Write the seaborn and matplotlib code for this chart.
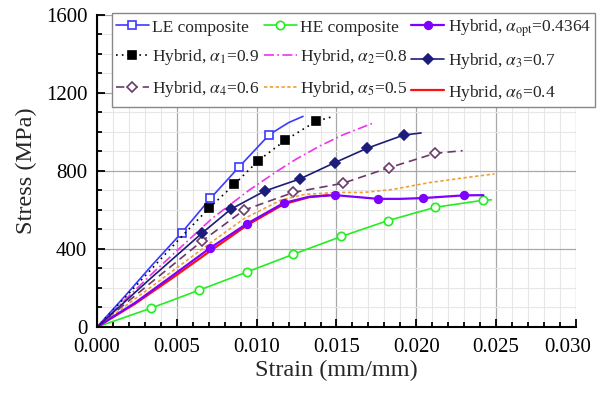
import numpy as np
import matplotlib
matplotlib.use('Agg')
import matplotlib.pyplot as plt
import matplotlib.transforms as mtransforms
import seaborn as sns
from matplotlib.ticker import MultipleLocator, FormatStrFormatter

# strain (mm/mm) / stress (MPa)
le_strain = [0, 0.0018, 0.0035, 0.0053, 0.0071, 0.0089, 0.0108, 0.0120, 0.0129]
le_stress = [0, 163, 322, 483, 659, 821, 987, 1048, 1080]

he_strain = [0, 0.0034, 0.0064, 0.0094, 0.0123, 0.0153, 0.0182, 0.0212, 0.0242, 0.0247]
he_stress = [0, 97, 189, 282, 373, 464, 545, 614, 650, 652]

opt_strain = [0, 0.0024, 0.0047, 0.0071, 0.0094, 0.0117, 0.0133, 0.0149, 0.0162, 0.0176, 0.0190, 0.0204, 0.0230, 0.0242]
opt_stress = [0, 125, 262, 406, 530, 636, 668, 676, 667, 657, 657, 661, 675, 676]

a1_strain = [0, 0.0018, 0.0035, 0.0052, 0.0070, 0.0086, 0.0101, 0.0118, 0.0137, 0.0148]
a1_stress = [0, 155, 305, 455, 608, 731, 853, 958, 1054, 1080]

a2_strain = [0, 0.0036, 0.0072, 0.0095, 0.0113, 0.0125, 0.0140, 0.0154, 0.0173]
a2_stress = [0, 285, 556, 700, 800, 862, 930, 985, 1046]

a3_strain = [0, 0.0033, 0.0066, 0.0084, 0.0105, 0.0127, 0.0149, 0.0169, 0.0192, 0.0203]
a3_stress = [0, 245, 483, 605, 697, 759, 843, 916, 984, 995]

a4_strain = [0, 0.0033, 0.0066, 0.0092, 0.0123, 0.0154, 0.0183, 0.0212, 0.0229]
a4_stress = [0, 222, 442, 599, 690, 737, 817, 891, 904]

a5_strain = [0, 0.0035, 0.0070, 0.0092, 0.0115, 0.0130, 0.0150, 0.0167, 0.0185, 0.0208, 0.0230, 0.0249]
a5_stress = [0, 212, 425, 555, 650, 680, 690, 690, 705, 740, 765, 785]

a6_strain = [0, 0.0024, 0.0047, 0.0071, 0.0094, 0.0117, 0.0133, 0.0145]
a6_stress = [0, 120, 250, 390, 522, 630, 666, 676]

sns.set_style('ticks')
plt.rcParams['font.family'] = ['Liberation Serif', 'DejaVu Serif']
plt.rcParams['mathtext.fontset'] = 'stix'

fig = plt.figure(figsize=(5.97, 3.93), dpi=100)
ax = fig.add_axes([0.1625, 0.168, 0.8023, 0.7939])

# (x, y, color, linestyle, marker, filled, markevery, label)
series = [
    (le_strain, le_stress, '#3a3aff', '-', 's', False, [3, 4, 5, 6], 'LE composite'),
    (a1_strain, a1_stress, 'black', (0, (1, 2.5)), 's', True, [4, 5, 6, 7, 8], r'Hybrid, $\alpha_1$=0.9'),
    (a4_strain, a4_stress, '#6a3a6a', (0, (5, 3)), 'D', False, [2, 3, 4, 5, 6, 7], r'Hybrid, $\alpha_4$=0.6'),
    (he_strain, he_stress, '#22ee22', '-', 'o', False, [1, 2, 3, 4, 5, 6, 7, 8], 'HE composite'),
    (a2_strain, a2_stress, '#ee33ee', (0, (6, 2, 1, 2)), None, False, None, r'Hybrid, $\alpha_2$=0.8'),
    (a5_strain, a5_stress, '#f0a030', (0, (2, 1.5)), None, False, None, r'Hybrid, $\alpha_5$=0.5'),
    (a6_strain, a6_stress, '#ff1010', '-', None, False, None, r'Hybrid, $\alpha_6$=0.4'),
    (opt_strain, opt_stress, '#7f00ff', '-', 'o', True, [3, 4, 5, 7, 9, 11, 12], r'Hybrid, $\alpha_{\rm opt}$=0.4364'),
    (a3_strain, a3_stress, '#1c1c7a', '-', 'D', True, [2, 3, 4, 5, 6, 7, 8], r'Hybrid, $\alpha_3$=0.7'),
]

handles = {}
for xs, ys, col, ls, mk, filled, every, label in series:
    sns.lineplot(x=xs, y=ys, ax=ax, sort=False, label=label, color=col)
    line = ax.get_lines()[-1]
    line.set_linestyle(ls)
    line.set_linewidth(1.6 if col in ('#ff1010', '#7f00ff') else 1.2)
    if mk is not None:
        line.set_marker(mk)
        line.set_markevery(every)
        if mk == 'D':
            line.set_markersize(5)
        elif mk == 's':
            line.set_markersize(5.8 if not filled else 5.3)
        else:
            line.set_markersize(5.5 if filled else 6)
        line.set_markeredgecolor(col)
        line.set_markerfacecolor(col if filled else 'white')
        line.set_markeredgewidth(1.2)
    handles[label] = line

order = ['LE composite', r'Hybrid, $\alpha_1$=0.9', r'Hybrid, $\alpha_4$=0.6',
         'HE composite', r'Hybrid, $\alpha_2$=0.8', r'Hybrid, $\alpha_5$=0.5',
         r'Hybrid, $\alpha_{\rm opt}$=0.4364', r'Hybrid, $\alpha_3$=0.7', r'Hybrid, $\alpha_6$=0.4']
ax.get_legend().remove()
leg = fig.legend([handles[k] for k in order], order, ncol=3, loc='upper left',
                 bbox_to_anchor=(0.187, 0.967, 0.81, 0.0), mode='expand',
                 fontsize=12.5, frameon=True, fancybox=False, edgecolor='#888888',
                 framealpha=1, handlelength=1.9, handletextpad=0.2,
                 columnspacing=0.6, labelspacing=0.68, borderpad=0.25, borderaxespad=0)
leg.get_frame().set_linewidth(1.0)

ax.set_xlim(0, 0.030)
ax.set_ylim(0, 1600)
ax.xaxis.set_major_locator(MultipleLocator(0.005))
ax.xaxis.set_minor_locator(MultipleLocator(0.001))
ax.yaxis.set_major_locator(MultipleLocator(400))
ax.yaxis.set_minor_locator(MultipleLocator(100))
ax.xaxis.set_major_formatter(FormatStrFormatter('%.3f'))
ax.grid(which='major', color='#a8a8a8', lw=0.9)
ax.grid(which='minor', color='#e6e6e6', lw=0.8)
ax.set_axisbelow(True)
ax.tick_params(which='both', direction='in', labelsize=15, width=1.3, colors='black')
ax.tick_params(which='major', length=6)
ax.tick_params(which='minor', length=3.5)
ax.tick_params(axis='x', pad=8)
ax.tick_params(axis='y', pad=7)
for s in ['top', 'right']:
    ax.spines[s].set_visible(False)
for s in ['left', 'bottom']:
    ax.spines[s].set_linewidth(1.5)
    ax.spines[s].set_color('black')

ax.set_xlabel('Strain (mm/mm)', fontsize=17.5, labelpad=2)
ax.set_ylabel('Stress (MPa)', fontsize=17.5, labelpad=6)

# nudge the last x tick label left so it stays inside the figure
fig.canvas.draw()
for t in ax.get_xticklabels():
    if t.get_text() == '0.030':
        t.set_transform(t.get_transform() + mtransforms.ScaledTranslation(-6 / 72, 0, fig.dpi_scale_trans))

fig.savefig('out.png', dpi=100)
